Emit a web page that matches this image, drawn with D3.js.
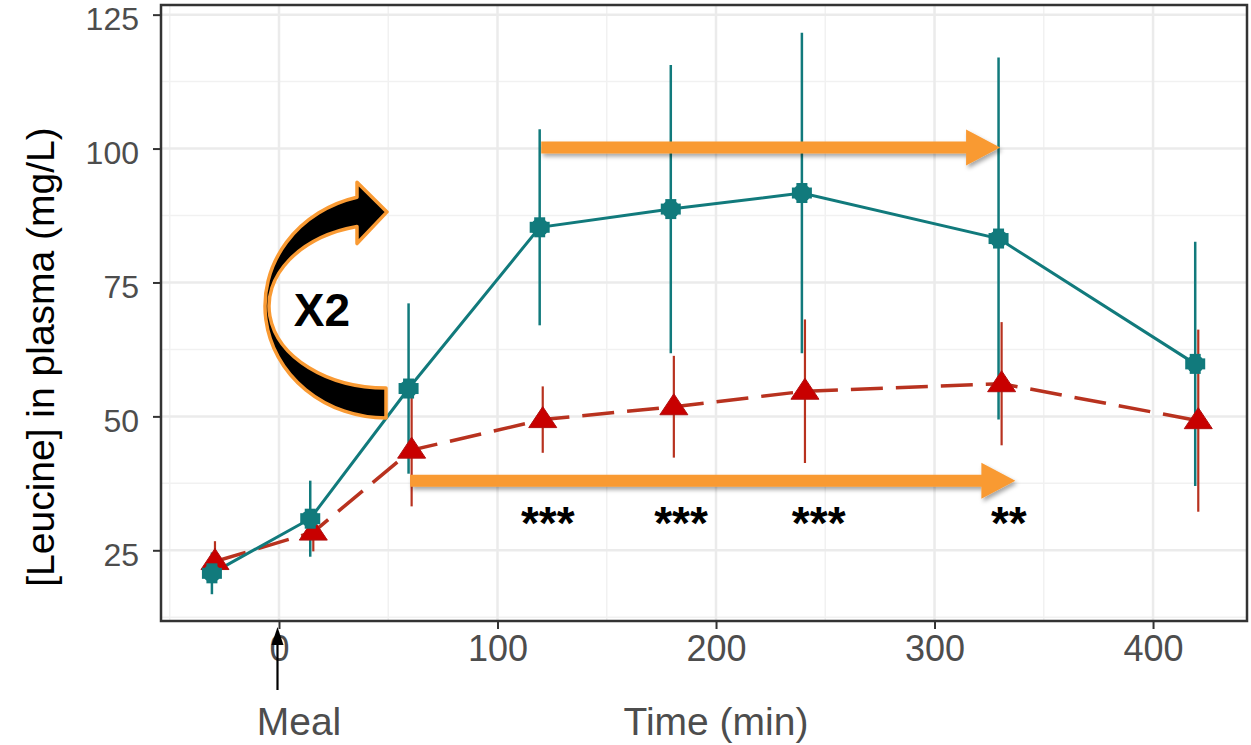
<!DOCTYPE html>
<html><head><meta charset="utf-8">
<script src="https://cdn.jsdelivr.net/npm/d3@7"></script>
<style>body{margin:0;background:#fff}svg{display:block;font-family:"Liberation Sans",Arial,sans-serif}</style>
</head><body><svg id="c" width="1251" height="745"></svg>
<script>
// ---- data ----
const times = [-30, 15, 60, 120, 180, 240, 330, 420];
const tealMean = [20.7, 30.9, 55.2, 85.3, 88.7, 91.7, 83.2, 59.8];
const tealSD   = [3.9, 7.1, 15.9, 18.3, 26.9, 29.9, 33.8, 22.8];
const redMean  = [22.9, 28.4, 43.7, 49.4, 51.8, 54.7, 56.1, 49.2];
const redSD    = [3.8, 3.6, 10.5, 6.2, 9.5, 13.4, 11.5, 17.0];
const xTicks = [0, 100, 200, 300, 400];
const yTicks = [25, 50, 75, 100, 125];
const starTimes = [123, 184, 247, 334];
const starLabels = ["***", "***", "***", "**"];
const arrowTop = {x0: 120, x1: 330, y: 100.2};
const arrowBot = {x0: 60, x1: 337, y: 38};

const W = 1251, H = 745;
const svg = d3.select("#c");
const x = d3.scaleLinear().domain([-54, 443]).range([161, 1247]);
const y = d3.scaleLinear().domain([11.8, 126.8]).range([621, 5]);
const TEAL = "#117a7c", RED = "#b8321f", TRI = "#c80000", ORANGE = "#f99a33";

const defs = svg.append("defs");
const f = defs.append("filter").attr("id","sh").attr("x","-10%").attr("y","-50%").attr("width","130%").attr("height","250%");
f.append("feDropShadow").attr("dx",2).attr("dy",3).attr("stdDeviation",2).attr("flood-color","#000").attr("flood-opacity",0.35);
defs.append("clipPath").attr("id","pc").append("rect").attr("x",161).attr("y",5).attr("width",1086).attr("height",616);

// grid
const g = svg.append("g");
const minorX = [-50, 50, 150, 250, 350];
const minorY = [12.5, 37.5, 62.5, 87.5, 112.5];
g.selectAll(".mx").data(minorX).join("line").attr("x1",d=>x(d)).attr("x2",d=>x(d)).attr("y1",5).attr("y2",621).attr("stroke","#f1f1f1").attr("stroke-width",1.5);
g.selectAll(".my").data(minorY).join("line").attr("y1",d=>y(d)).attr("y2",d=>y(d)).attr("x1",161).attr("x2",1247).attr("stroke","#f1f1f1").attr("stroke-width",1.5);
g.selectAll(".Mx").data(xTicks).join("line").attr("x1",d=>x(d)).attr("x2",d=>x(d)).attr("y1",5).attr("y2",621).attr("stroke","#ebebeb").attr("stroke-width",2.5);
g.selectAll(".My").data(yTicks).join("line").attr("y1",d=>y(d)).attr("y2",d=>y(d)).attr("x1",161).attr("x2",1247).attr("stroke","#ebebeb").attr("stroke-width",2.5);

const plot = svg.append("g").attr("clip-path","url(#pc)");
const dodge = 0.7;
const red = times.map((t,i)=>({t:t+dodge, m:redMean[i], s:redSD[i]}));
const teal = times.map((t,i)=>({t:t-dodge, m:tealMean[i], s:tealSD[i]}));

// error bars
plot.selectAll(".er").data(red).join("line").attr("x1",d=>x(d.t)).attr("x2",d=>x(d.t)).attr("y1",d=>y(d.m-d.s)).attr("y2",d=>y(d.m+d.s)).attr("stroke",RED).attr("stroke-width",2.2);
plot.selectAll(".et").data(teal).join("line").attr("x1",d=>x(d.t)).attr("x2",d=>x(d.t)).attr("y1",d=>y(d.m-d.s)).attr("y2",d=>y(d.m+d.s)).attr("stroke",TEAL).attr("stroke-width",2.5);

// lines
const line = d3.line().x(d=>x(d.t)).y(d=>y(d.m));
plot.append("path").datum(red).attr("d",line).attr("fill","none").attr("stroke",RED).attr("stroke-width",3.5).attr("stroke-dasharray","32,13");
plot.append("path").datum(teal).attr("d",line).attr("fill","none").attr("stroke",TEAL).attr("stroke-width",3);

// points
plot.selectAll(".pr").data(red).join("path")
  .attr("transform",d=>`translate(${x(d.t)},${y(d.m)})`)
  .attr("d","M0,-13 L14,8 L-14,8 Z").attr("fill",TRI).attr("stroke","#b01010").attr("stroke-width",1);
const tp = plot.selectAll(".pt").data(teal).join("g").attr("transform",d=>`translate(${x(d.t)},${y(d.m)})`).attr("fill",TEAL);
tp.append("rect").attr("x",-10).attr("y",-5.5).attr("width",20).attr("height",11);
tp.append("rect").attr("x",-5.5).attr("y",-10).attr("width",11).attr("height",20);
tp.append("circle").attr("r",9);

// orange arrows
function hArrow(a){
  const x0=x(a.x0), x1=x(a.x1), yy=y(a.y), hl=34, sw=6, hw=18;
  return `M${x0},${yy-sw} L${x1-hl},${yy-sw} L${x1-hl},${yy-hw} L${x1},${yy} L${x1-hl},${yy+hw} L${x1-hl},${yy+sw} L${x0},${yy+sw} Z`;
}
svg.append("path").attr("d",hArrow(arrowTop)).attr("fill",ORANGE).attr("filter","url(#sh)");
svg.append("path").attr("d",hArrow(arrowBot)).attr("fill",ORANGE).attr("filter","url(#sh)");

// curved X2 arrow
(function(){
  const cx=386, cy=306, orx=121, ory=112, irx=117, iry=82;
  const bx=357;
  const oy = cy - ory*Math.sqrt(1-((bx-cx)/orx)**2);
  const iy = cy - iry*Math.sqrt(1-((bx-cx)/irx)**2);
  const d = `M${cx},${cy+ory} A${orx},${ory} 0 0 1 ${bx},${oy} L${bx},${oy-15} L${cx+1},${(oy+iy)/2} L${bx},${iy+17} L${bx},${iy} A${irx},${iry} 0 0 0 ${cx},${cy+iry} Z`;
  svg.append("path").attr("d",d).attr("fill","#000").attr("stroke",ORANGE).attr("stroke-width",3.5).attr("stroke-linejoin","round");
  svg.append("text").attr("x",322).attr("y",326).attr("text-anchor","middle").attr("font-size",46).attr("font-weight","bold").attr("fill","#000").text("X2");
})();

// stars
svg.selectAll(".st").data(starTimes).join("text").attr("x",d=>x(d)).attr("y",539).attr("text-anchor","middle")
  .attr("font-size",46).attr("font-weight","bold").attr("fill","#000").text((d,i)=>starLabels[i]);

// panel border
svg.append("rect").attr("x",161).attr("y",5).attr("width",1086).attr("height",616).attr("fill","none").attr("stroke","#333").attr("stroke-width",2.5);

// axes
const ax = svg.append("g").attr("transform","translate(0,621)").call(d3.axisBottom(x).tickValues(xTicks).tickSize(8).tickPadding(6).tickFormat(d3.format("d")));
const ay = svg.append("g").attr("transform","translate(161,0)").call(d3.axisLeft(y).tickValues(yTicks).tickSize(8).tickPadding(14).tickFormat(d3.format("d")));
[ax, ay].forEach(a=>{
  a.select(".domain").remove();
  a.selectAll(".tick line").attr("stroke","#333").attr("stroke-width",2);
  a.selectAll(".tick text").attr("fill","#4d4d4d").attr("font-family","Liberation Sans, Arial, sans-serif");
});
ax.selectAll(".tick text").attr("font-size",36);
ay.selectAll(".tick text").attr("font-size",32).attr("dy","0.47em");

// meal arrow
svg.append("line").attr("x1",x(0)-1.5).attr("x2",x(0)-1.5).attr("y1",690).attr("y2",640).attr("stroke","#000").attr("stroke-width",2.2);
svg.append("path").attr("d",`M${x(0)-1.5},627 L${x(0)+4.5},645 L${x(0)-7.5},645 Z`).attr("fill","#000");

// titles
svg.append("text").attr("x",299).attr("y",735).attr("text-anchor","middle").attr("font-size",39).attr("fill","#4d4d4d").text("Meal");
svg.append("text").attr("x",716).attr("y",735).attr("text-anchor","middle").attr("font-size",39).attr("fill","#4d4d4d").text("Time (min)");
svg.append("text").attr("transform","translate(54,357) rotate(-90)").attr("text-anchor","middle").attr("font-size",39).attr("fill","#000").text("[Leucine] in plasma (mg/L)");
</script></body></html>
